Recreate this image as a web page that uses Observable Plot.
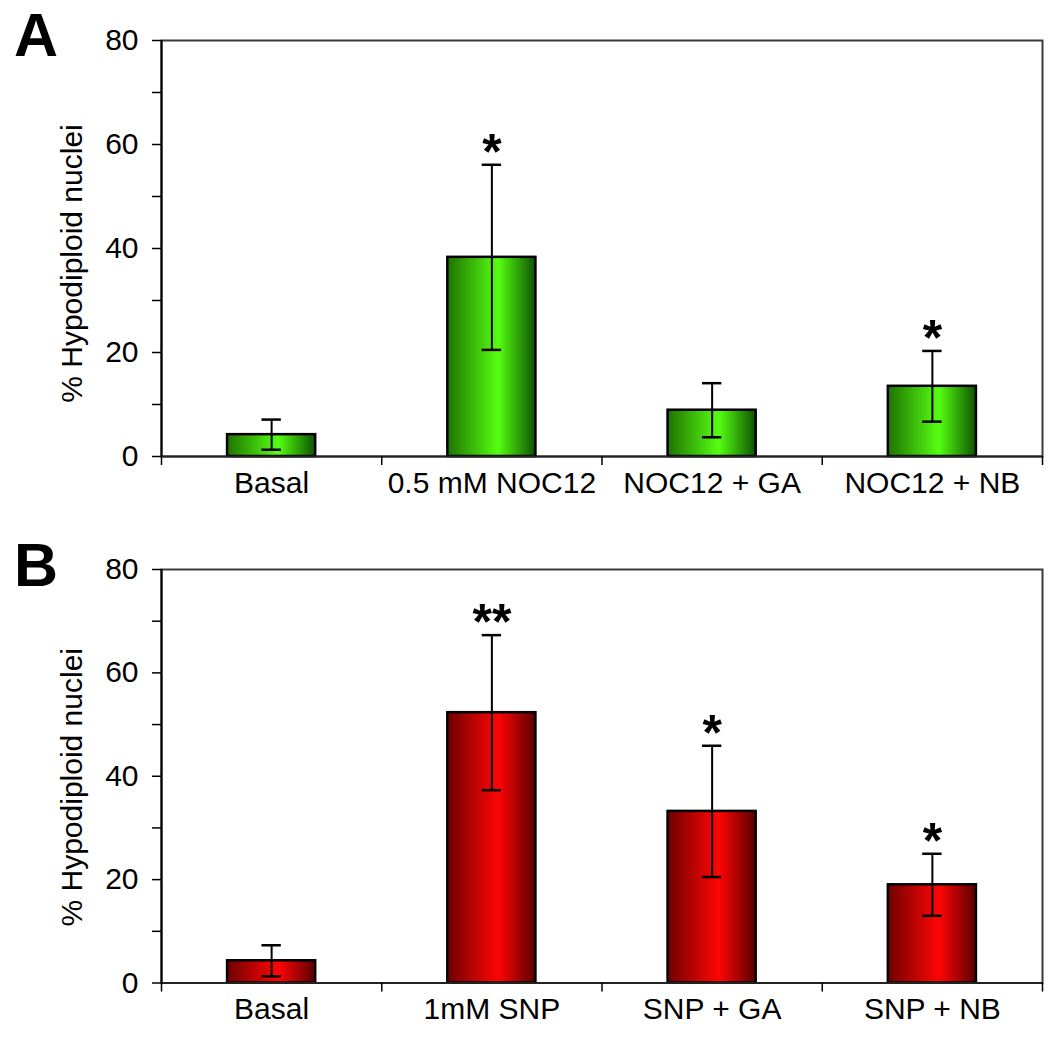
<!DOCTYPE html>
<html><head><meta charset="utf-8">
<script src="https://cdn.jsdelivr.net/npm/d3@7"></script>
<script src="https://cdn.jsdelivr.net/npm/@observablehq/plot@0.6"></script>
<style>
body{margin:0;background:#fff;font-family:"Liberation Sans",Arial,sans-serif;}
#wrap{position:relative;width:1063px;height:1044px;overflow:hidden;}
.panel{position:absolute;left:0;}
.letter{position:absolute;font-weight:bold;font-size:61px;line-height:1;color:#000;}
</style></head><body>
<div id="wrap"></div>
<script>
// ---- data ----
const categoriesA = ["Basal", "0.5 mM NOC12", "NOC12 + GA", "NOC12 + NB"];
const meansA = [4.2, 38.3, 8.9, 13.5];
const errorsA = [2.9, 17.8, 5.2, 6.8];
const starsA = ["", "*", "", "*"];

const categoriesB = ["Basal", "1mM SNP", "SNP + GA", "SNP + NB"];
const meansB = [4.3, 52.3, 33.2, 19.0];
const errorsB = [3.0, 15.0, 12.7, 6.0];
const starsB = ["", "**", "*", "*"];

const yTicks = [0, 10, 20, 30, 40, 50, 60, 70, 80];
const yLabelled = [0, 20, 40, 60, 80];
const yTitle = "% Hypodiploid nuclei";

const green = ["#1f7300", "#55ff12", "#0e5200"];
const red = ["#700000", "#ff0505", "#5a0000"];

function gradient(id, c) {
  return () => {
    const defs = d3.create("svg:defs");
    const g = defs.append("linearGradient").attr("id", id)
      .attr("x1", "0").attr("x2", "1").attr("y1", "0").attr("y2", "0");
    g.append("stop").attr("offset", "0%").attr("stop-color", c[0]);
    g.append("stop").attr("offset", "58%").attr("stop-color", c[1]);
    g.append("stop").attr("offset", "100%").attr("stop-color", c[2]);
    return defs.node();
  };
}

function panel(cats, means, errs, stars, colors, gid, L) {
  const data = cats.map((c, i) => ({c, i, v: means[i], lo: means[i] - errs[i], hi: means[i] + errs[i], s: stars[i]}));
  const xc = d => d.i + 0.5;
  const catTicks = cats.map((c, i) => i + 0.5);
  const dividers = d3.range(cats.length + 1);
  return Plot.plot({
    width: 1063, height: L.height,
    marginLeft: 161, marginRight: 21, marginTop: L.top, marginBottom: L.bottom,
    x: {domain: [0, cats.length], axis: null},
    y: {domain: [0, 80], axis: null},
    style: {fontFamily: "'Liberation Sans', Arial, sans-serif", fontSize: "30px", color: "#000", background: "#fff", overflow: "visible"},
    marks: [
      gradient(gid, colors),
      Plot.frame({stroke: "#3a3a3a", strokeWidth: 2}),
      Plot.rectY(data, {x1: d => d.i + 0.3, x2: d => d.i + 0.7, y1: 0, y2: "v", fill: `url(#${gid})`, stroke: "#000", strokeWidth: 2.5}),
      Plot.ruleX(data, {x: xc, y1: "lo", y2: "hi", stroke: "#000", strokeWidth: 2}),
      Plot.ruleY(data, {y: "hi", x1: d => d.i + 0.456, x2: d => d.i + 0.544, stroke: "#000", strokeWidth: 2.5}),
      Plot.ruleY(data, {y: "lo", x1: d => d.i + 0.456, x2: d => d.i + 0.544, stroke: "#000", strokeWidth: 2.5}),
      Plot.text(data, {x: xc, y: "hi", text: "s", fontSize: 50, fontWeight: "bold", dy: -12}),
      Plot.ruleX([0], {stroke: "#000", strokeWidth: 2}),
      Plot.ruleY([0], {stroke: "#222", strokeWidth: 2}),
      Plot.axisY({ticks: yTicks, tickSize: 9, tickPadding: 14, strokeWidth: 1.5,
        tickFormat: d => yLabelled.includes(d) ? String(d) : "", fontSize: 30}),
      Plot.axisX({ticks: dividers, tickSize: 9, tickFormat: () => "", strokeWidth: 1.5}),
      Plot.axisX({ticks: catTicks, tickSize: 0, tickPadding: L.labelPad, fontSize: 30,
        tickFormat: d => cats[Math.floor(d)]}),
      Plot.text([yTitle], {frameAnchor: "left", textAnchor: "middle", rotate: -90, dx: -89, dy: L.titleDy, fontSize: 30})
    ]
  });
}

const wrap = document.getElementById("wrap");
const pA = panel(categoriesA, meansA, errorsA, starsA, green, "gradA",
  {height: 525, top: 40, bottom: 69, labelPad: 15, titleDy: 15});
pA.classList.add("panel"); pA.style.top = "0px";
wrap.appendChild(pA);
const pB = panel(categoriesB, meansB, errorsB, starsB, red, "gradB",
  {height: 519, top: 44, bottom: 61.5, labelPad: 15, titleDy: 11});
pB.classList.add("panel"); pB.style.top = "525px";
wrap.appendChild(pB);

const la = document.createElement("div"); la.className = "letter"; la.textContent = "A";
la.style.left = "14px"; la.style.top = "5px"; wrap.appendChild(la);
const lb = document.createElement("div"); lb.className = "letter"; lb.textContent = "B";
lb.style.left = "14px"; lb.style.top = "535px"; wrap.appendChild(lb);
</script>
</body></html>
